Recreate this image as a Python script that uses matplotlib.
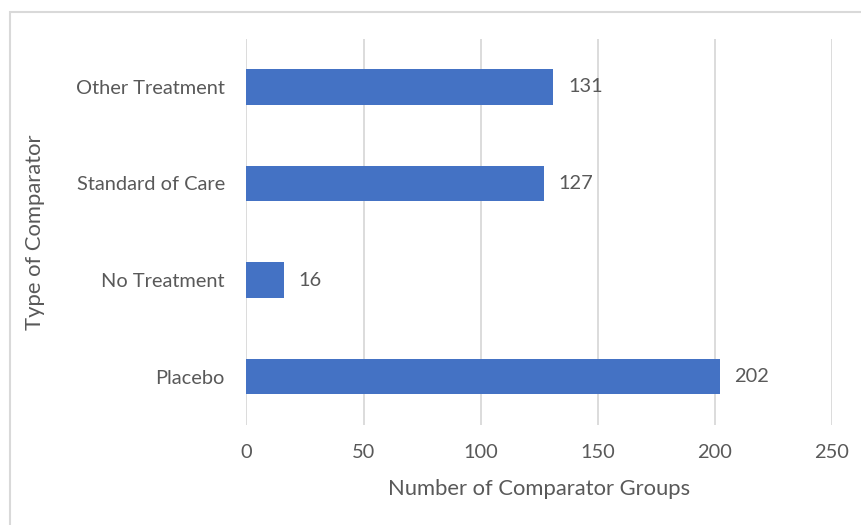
import matplotlib
matplotlib.use("Agg")
import matplotlib.pyplot as plt
from matplotlib.patches import Rectangle

categories = ["Placebo", "No Treatment", "Standard of Care", "Other Treatment"]
values = [202, 16, 127, 131]
xticks = [0, 50, 100, 150, 200, 250]

W, H = 862, 525
plt.rcParams['font.family'] = ['Lato', 'DejaVu Sans']
fig = plt.figure(figsize=(W / 100, H / 100), dpi=100)

left, right, top, bottom = 246.5, 832, 38.75, 424.75
aw, ah = right - left, bottom - top
ax = fig.add_axes([left / W, 1 - bottom / H, aw / W, ah / H])

txt = "#595959"
ypos = list(range(len(categories)))
bars = ax.barh(ypos, values, height=0.363, color="#4472C4", zorder=3)
ax.set_xlim(0, 250)
ax.set_ylim(-0.5, len(categories) - 0.5)
ax.set_xticks(xticks)
ax.set_xticklabels([str(t) for t in xticks])
ax.set_yticks(ypos)
ax.set_yticklabels(categories)
ax.grid(axis="x", color="#D9D9D9", linewidth=1.3, zorder=0)
ax.grid(axis="y", visible=False)
for s in ax.spines.values():
    s.set_visible(False)
ax.tick_params(axis="both", length=0, labelsize=14.4, colors=txt)
ax.tick_params(axis="x", pad=14)
ax.tick_params(axis="y", pad=15.5)

for b, v in zip(bars, values):
    ax.annotate(str(v), (b.get_width(), b.get_y() + b.get_height() / 2),
                xytext=(10.5, 0), textcoords="offset points",
                ha="left", va="center", fontsize=14.4, color=txt)

ax.set_xlabel("Number of Comparator Groups", fontsize=15.8, color=txt, va="center")
ax.xaxis.set_label_coords((539 - left) / aw, (bottom - 489) / ah)
ax.set_ylabel("Type of Comparator", fontsize=15.8, color=txt, va="center")
ax.yaxis.set_label_coords((35 - left) / aw, 0.5)

fig.patches.append(Rectangle((10 / W, -0.02), 1.05, 1 - 12 / H + 0.02,
                             transform=fig.transFigure, fill=False,
                             edgecolor="#D9D9D9", linewidth=1.5))

fig.savefig("out.png", dpi=100)
